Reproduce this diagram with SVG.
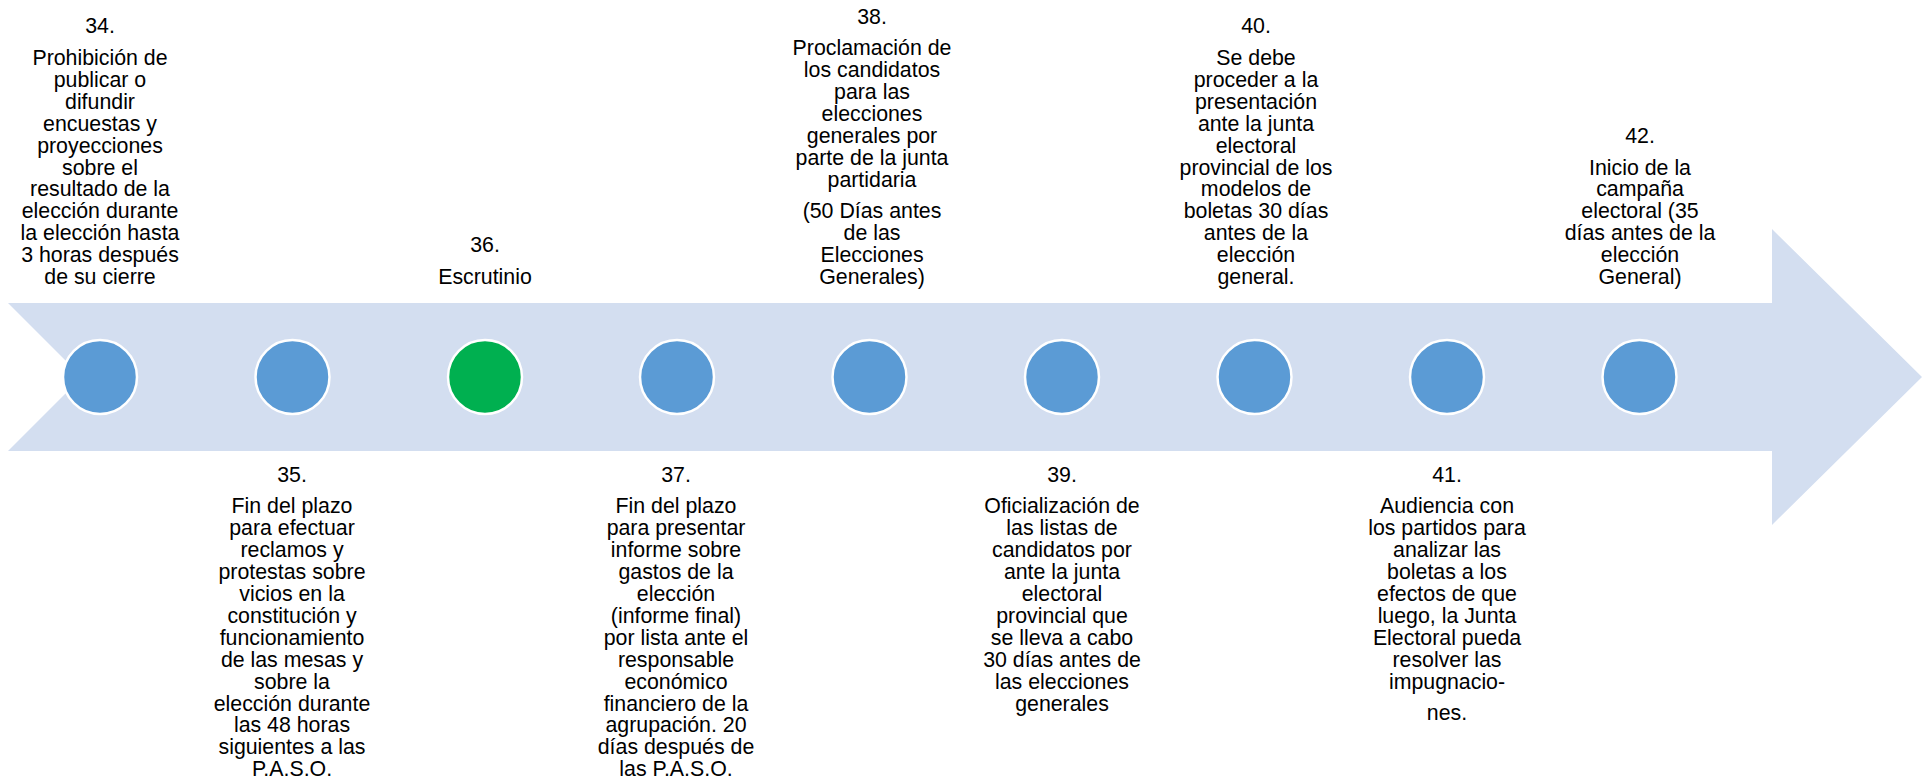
<svg xmlns="http://www.w3.org/2000/svg" width="1923" height="783" viewBox="0 0 1923 783">
<style>
.lbl{font-family:"Liberation Sans",Arial,sans-serif;font-size:21.33px;fill:#000;text-anchor:middle}
.dot{fill:#5B9BD5;stroke:#FFFFFF;stroke-width:2.5}
.dot.cur{fill:#00B050}
.arrow{fill:#D3DEF0}
</style>
<rect width="1923" height="783" fill="#FFFFFF"/>
<g id="connectors">
<path class="arrow" d="M8,303 L1772,303 L1772,229 L1922,377 L1772,525 L1772,451 L8,451 L82,377 Z"/>
</g>
<g id="n34">
<circle class="dot" cx="100" cy="377" r="37"/>
<text class="lbl"><tspan x="100" y="33.3">34.</tspan><tspan x="100" y="65">Prohibición de</tspan><tspan x="100" y="86.9">publicar o</tspan><tspan x="100" y="108.8">difundir</tspan><tspan x="100" y="130.7">encuestas y</tspan><tspan x="100" y="152.6">proyecciones</tspan><tspan x="100" y="174.5">sobre el</tspan><tspan x="100" y="196.4">resultado de la</tspan><tspan x="100" y="218.3">elección durante</tspan><tspan x="100" y="240.2">la elección hasta</tspan><tspan x="100" y="262.1">3 horas después</tspan><tspan x="100" y="284">de su cierre</tspan></text>
</g>
<g id="n35">
<circle class="dot" cx="292.5" cy="377" r="37"/>
<text class="lbl"><tspan x="292" y="481.7">35.</tspan><tspan x="292" y="513.4">Fin del plazo</tspan><tspan x="292" y="535.3">para efectuar</tspan><tspan x="292" y="557.2">reclamos y</tspan><tspan x="292" y="579.1">protestas sobre</tspan><tspan x="292" y="601">vicios en la</tspan><tspan x="292" y="622.9">constitución y</tspan><tspan x="292" y="644.8">funcionamiento</tspan><tspan x="292" y="666.7">de las mesas y</tspan><tspan x="292" y="688.6">sobre la</tspan><tspan x="292" y="710.5">elección durante</tspan><tspan x="292" y="732.4">las 48 horas</tspan><tspan x="292" y="754.3">siguientes a las</tspan><tspan x="292" y="776.2">P.A.S.O.</tspan></text>
</g>
<g id="n36">
<circle class="dot cur" cx="485" cy="377" r="37"/>
<text class="lbl"><tspan x="485" y="252.3">36.</tspan><tspan x="485" y="284">Escrutinio</tspan></text>
</g>
<g id="n37">
<circle class="dot" cx="677" cy="377" r="37"/>
<text class="lbl"><tspan x="676" y="481.7">37.</tspan><tspan x="676" y="513.4">Fin del plazo</tspan><tspan x="676" y="535.3">para presentar</tspan><tspan x="676" y="557.2">informe sobre</tspan><tspan x="676" y="579.1">gastos de la</tspan><tspan x="676" y="601">elección</tspan><tspan x="676" y="622.9">(informe final)</tspan><tspan x="676" y="644.8">por lista ante el</tspan><tspan x="676" y="666.7">responsable</tspan><tspan x="676" y="688.6">económico</tspan><tspan x="676" y="710.5">financiero de la</tspan><tspan x="676" y="732.4">agrupación. 20</tspan><tspan x="676" y="754.3">días después de</tspan><tspan x="676" y="776.2">las P.A.S.O.</tspan></text>
</g>
<g id="n38">
<circle class="dot" cx="869.5" cy="377" r="37"/>
<text class="lbl"><tspan x="872" y="23.5">38.</tspan><tspan x="872" y="55.2">Proclamación de</tspan><tspan x="872" y="77.1">los candidatos</tspan><tspan x="872" y="99">para las</tspan><tspan x="872" y="120.9">elecciones</tspan><tspan x="872" y="142.8">generales por</tspan><tspan x="872" y="164.7">parte de la junta</tspan><tspan x="872" y="186.6">partidaria</tspan><tspan x="872" y="218.3">(50 Días antes</tspan><tspan x="872" y="240.2">de las</tspan><tspan x="872" y="262.1">Elecciones</tspan><tspan x="872" y="284">Generales)</tspan></text>
</g>
<g id="n39">
<circle class="dot" cx="1062" cy="377" r="37"/>
<text class="lbl"><tspan x="1062" y="481.7">39.</tspan><tspan x="1062" y="513.4">Oficialización de</tspan><tspan x="1062" y="535.3">las listas de</tspan><tspan x="1062" y="557.2">candidatos por</tspan><tspan x="1062" y="579.1">ante la junta</tspan><tspan x="1062" y="601">electoral</tspan><tspan x="1062" y="622.9">provincial que</tspan><tspan x="1062" y="644.8">se lleva a cabo</tspan><tspan x="1062" y="666.7">30 días antes de</tspan><tspan x="1062" y="688.6">las elecciones</tspan><tspan x="1062" y="710.5">generales</tspan></text>
</g>
<g id="n40">
<circle class="dot" cx="1254.5" cy="377" r="37"/>
<text class="lbl"><tspan x="1256" y="33.3">40.</tspan><tspan x="1256" y="65">Se debe</tspan><tspan x="1256" y="86.9">proceder a la</tspan><tspan x="1256" y="108.8">presentación</tspan><tspan x="1256" y="130.7">ante la junta</tspan><tspan x="1256" y="152.6">electoral</tspan><tspan x="1256" y="174.5">provincial de los</tspan><tspan x="1256" y="196.4">modelos de</tspan><tspan x="1256" y="218.3">boletas 30 días</tspan><tspan x="1256" y="240.2">antes de la</tspan><tspan x="1256" y="262.1">elección</tspan><tspan x="1256" y="284">general.</tspan></text>
</g>
<g id="n41">
<circle class="dot" cx="1447" cy="377" r="37"/>
<text class="lbl"><tspan x="1447" y="481.7">41.</tspan><tspan x="1447" y="513.4">Audiencia con</tspan><tspan x="1447" y="535.3">los partidos para</tspan><tspan x="1447" y="557.2">analizar las</tspan><tspan x="1447" y="579.1">boletas a los</tspan><tspan x="1447" y="601">efectos de que</tspan><tspan x="1447" y="622.9">luego, la Junta</tspan><tspan x="1447" y="644.8">Electoral pueda</tspan><tspan x="1447" y="666.7">resolver las</tspan><tspan x="1447" y="688.6">impugnacio-</tspan><tspan x="1447" y="720.3">nes.</tspan></text>
</g>
<g id="n42">
<circle class="dot" cx="1639.5" cy="377" r="37"/>
<text class="lbl"><tspan x="1640" y="142.8">42.</tspan><tspan x="1640" y="174.5">Inicio de la</tspan><tspan x="1640" y="196.4">campaña</tspan><tspan x="1640" y="218.3">electoral (35</tspan><tspan x="1640" y="240.2">días antes de la</tspan><tspan x="1640" y="262.1">elección</tspan><tspan x="1640" y="284">General)</tspan></text>
</g>
</svg>
